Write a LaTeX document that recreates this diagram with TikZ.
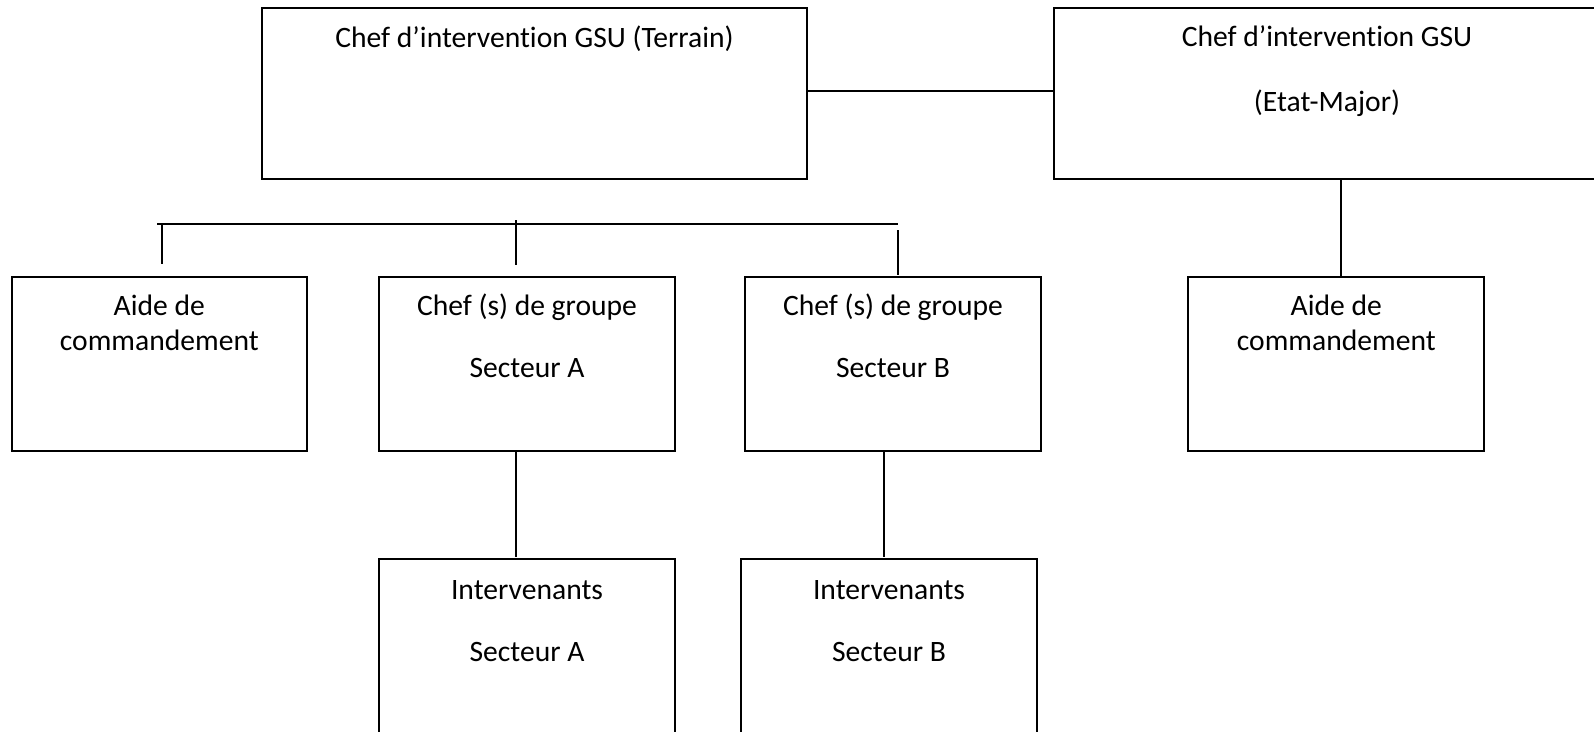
\documentclass[tikz,border=0pt]{standalone}
\usepackage{fontspec}
\setmainfont[Ligatures={NoCommon}]{Carlito}
\usetikzlibrary{calc}
\begin{document}
\begin{tikzpicture}[x=1pt,y=-1pt,
  box/.style={draw=black,line width=2pt,rectangle,inner sep=0pt,outer sep=0pt,minimum height=#1},
  box/.default=173.5pt,
  wbox/.style={minimum width=296pt},
  txt/.style={inner sep=0pt,anchor=base,font=\fontsize{29.6}{35}\selectfont},
  conn/.style={draw=black,line width=2pt}]
\useasboundingbox (0,0) rectangle (1594,731);
\clip (0,0) rectangle (1594,731);
\fill[white] (0,0) rectangle (1594,731);
% top boxes
\node[box=171pt,minimum width=545pt] (t) at (534.5,93) {};
\node[box=171pt,minimum width=546pt] (e) at (1327,93) {};
\node[txt] (t1) at ($(t.north)+(0,39.5)$) {Chef d’intervention GSU (Terrain)};
\node[txt] (e1) at ($(e.north)+(0,38.5)$) {Chef d’intervention GSU};
\node[txt] (e2) at ($(e.north)+(0,103.5)$) {(Etat-Major)};
% middle row
\node[box,minimum width=295.3pt] (al) at (159.3,364) {};
\node[box,wbox] (ca) at (527,364) {};
\node[box,wbox] (cb) at (893,364) {};
\node[box,wbox] (ar) at (1336.3,364) {};
\node[txt] (al1) at ($(al.north)+(0,38.5)$) {Aide de};
\node[txt] (al2) at ($(al.north)+(0,73)$) {commandement};
\node[txt] (ca1) at ($(ca.north)+(0,38.5)$) {Chef (s) de groupe};
\node[txt] (ca2) at ($(ca.north)+(0,100.5)$) {Secteur A};
\node[txt] (cb1) at ($(cb.north)+(0,38.5)$) {Chef (s) de groupe};
\node[txt] (cb2) at ($(cb.north)+(0,100.5)$) {Secteur B};
\node[txt] (ar1) at ($(ar.north)+(0,38.5)$) {Aide de};
\node[txt] (ar2) at ($(ar.north)+(0,73)$) {commandement};
% bottom row
\node[box=182pt,wbox] (ia) at (527,650) {};
\node[box=182pt,wbox] (ib) at (889,650) {};
\node[txt] (ia1) at ($(ia.north)+(0,40)$) {Intervenants};
\node[txt] (ia2) at ($(ia.north)+(0,102)$) {Secteur A};
\node[txt] (ib1) at ($(ib.north)+(0,40)$) {Intervenants};
\node[txt] (ib2) at ($(ib.north)+(0,102)$) {Secteur B};
% connectors
\draw[conn] ($(t.east)+(0,-2.3)$) -- ($(e.west)+(0,-2.3)$);
\coordinate (b1) at (157.3,224);
\coordinate (b2) at (898,224);
\draw[conn] (b1) -- (b2);
\coordinate (k1a) at (162,224);
\coordinate (k1b) at (162,264);
\draw[conn] (k1a) -- (k1b);
\coordinate (k2a) at (516,220);
\coordinate (k2b) at (516,265);
\draw[conn] (k2a) -- (k2b);
\coordinate (k3a) at (898,230);
\coordinate (k3b) at (898,275);
\draw[conn] (k3a) -- (k3b);
\coordinate (ex) at (1341,0);
\draw[conn] (e.south -| ex) -- (ar.north -| ex);
\coordinate (xa) at (516,0);
\draw[conn] (ca.south -| xa) -- ($(ia.north -| xa)+(0,-2)$);
\coordinate (xb) at (884,0);
\draw[conn] (cb.south -| xb) -- ($(ib.north -| xb)+(0,-2)$);
\end{tikzpicture}
\end{document}
